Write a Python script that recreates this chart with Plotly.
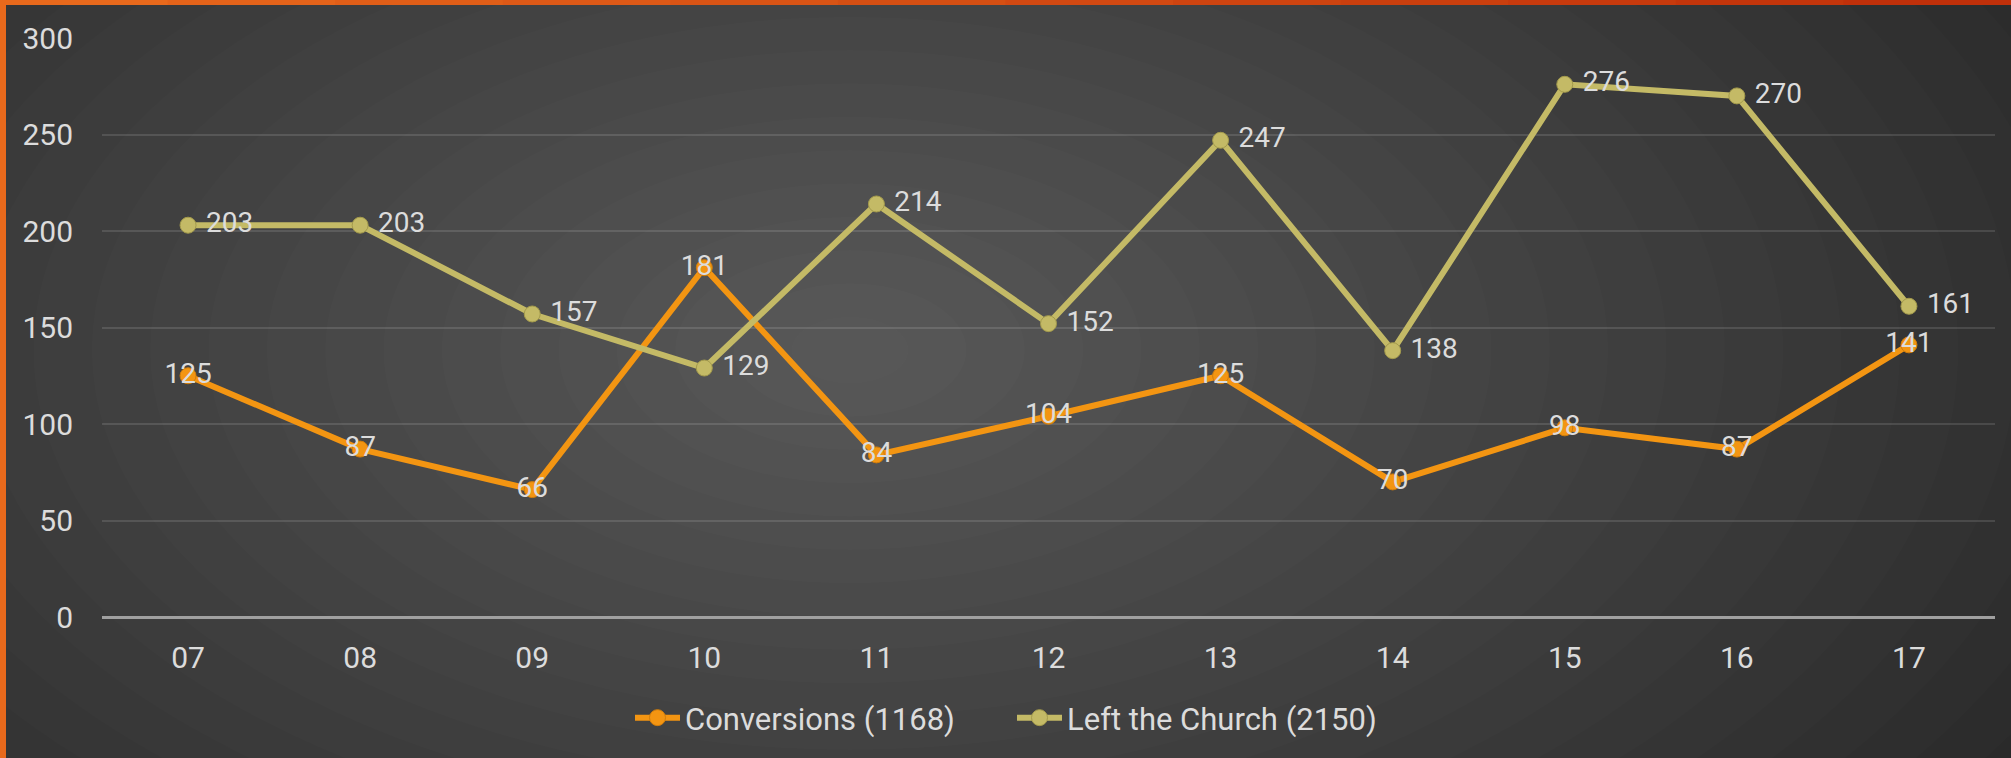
import plotly.graph_objects as go

# dados do gráfico
anos = ["07", "08", "09", "10", "11", "12", "13", "14", "15", "16", "17"]
conversoes = [125, 87, 66, 181, 84, 104, 125, 70, 98, 87, 141]
saidas = [203, 203, 157, 129, 214, 152, 247, 138, 276, 270, 161]

nome_conv = f"Conversions ({sum(conversoes)})"
nome_saida = f"Left the Church ({sum(saidas)})"

COR_CONV = "#F39512"
COR_SAIDA = "#C4BA66"
COR_TEXTO = "#DCDCDC"

W, H = 2011, 758
M_L, M_R, M_T, M_B = 102, 16, 38, 141
PW, PH = W - M_L - M_R, H - M_T - M_B


def px_x(x):
    return (x - M_L) / PW


def px_y(y):
    return (H - M_B - y) / PH


fig = go.Figure()

fig.add_trace(go.Scatter(
    x=anos, y=conversoes, name=nome_conv,
    mode="lines+markers+text",
    line=dict(color=COR_CONV, width=6),
    marker=dict(color=COR_CONV, size=16, line=dict(color="#D07C0A", width=1)),
    text=[str(v) for v in conversoes],
    textposition="middle center",
    textfont=dict(color=COR_TEXTO, size=28, family="Roboto"),
))

fig.add_trace(go.Scatter(
    x=anos, y=saidas, name=nome_saida,
    mode="lines+markers+text",
    line=dict(color=COR_SAIDA, width=6),
    marker=dict(color=COR_SAIDA, size=16, line=dict(color="#A39A4C", width=1)),
    text=["\u00a0" + str(v) for v in saidas],
    textposition="middle right",
    textfont=dict(color=COR_TEXTO, size=28, family="Roboto"),
))

shapes = []

# fundo com gradiente radial aproximado
cx, cy = px_x(850), px_y(350)
n = 24
for i in range(n):
    f = 1 - i / n
    rx = 1400 * f / PW
    ry = 800 * f / PH
    shapes.append(dict(
        type="circle", xref="paper", yref="paper", layer="below",
        x0=cx - rx, x1=cx + rx, y0=cy - ry, y1=cy + ry,
        fillcolor="rgba(255,255,255,0.0105)", line=dict(width=0),
    ))

# borda laranja (esquerda e topo)
shapes.append(dict(
    type="rect", xref="paper", yref="paper", layer="above",
    x0=px_x(0), x1=px_x(6), y0=px_y(H), y1=px_y(0),
    fillcolor="#E8691C", line=dict(width=0),
))
segs = 12
c0 = (232, 105, 28)
c1 = (192, 48, 10)
for i in range(segs):
    t = i / (segs - 1)
    c = tuple(int(c0[k] + (c1[k] - c0[k]) * t) for k in range(3))
    shapes.append(dict(
        type="rect", xref="paper", yref="paper", layer="above",
        x0=px_x(W * i / segs), x1=px_x(W * (i + 1) / segs + 1),
        y0=px_y(5), y1=px_y(0),
        fillcolor="rgb(%d,%d,%d)" % c, line=dict(width=0),
    ))

fig.update_layout(
    width=W, height=H,
    margin=dict(l=M_L, r=M_R, t=M_T, b=M_B),
    paper_bgcolor="#282828",
    plot_bgcolor="rgba(0,0,0,0)",
    font=dict(family="Roboto", color=COR_TEXTO, size=28),
    shapes=shapes,
    showlegend=True,
    legend=dict(
        orientation="h", x=px_x(630), xanchor="left", y=px_y(718), yanchor="middle",
        font=dict(family="Roboto", size=31, color=COR_TEXTO),
        bgcolor="rgba(0,0,0,0)", itemwidth=45,
        entrywidth=322, entrywidthmode="pixels",
    ),
)

fig.update_xaxes(
    type="category", range=[-0.5, 10.5],
    showgrid=False, showline=False, zeroline=False,
    ticks="", ticklabelstandoff=20,
    tickfont=dict(size=30, color=COR_TEXTO),
)
fig.update_yaxes(
    range=[0, 300], tickvals=[0, 50, 100, 150, 200, 250, 300],
    showgrid=True, gridcolor="rgba(255,255,255,0.12)", gridwidth=2,
    zeroline=True, zerolinecolor="#A0A0A0", zerolinewidth=3,
    showline=False, ticks="", ticklabelstandoff=28,
    tickfont=dict(size=30, color=COR_TEXTO),
)

fig.write_html("out.html", config={"displayModeBar": False},
               post_script="document.body.style.margin='0';")
